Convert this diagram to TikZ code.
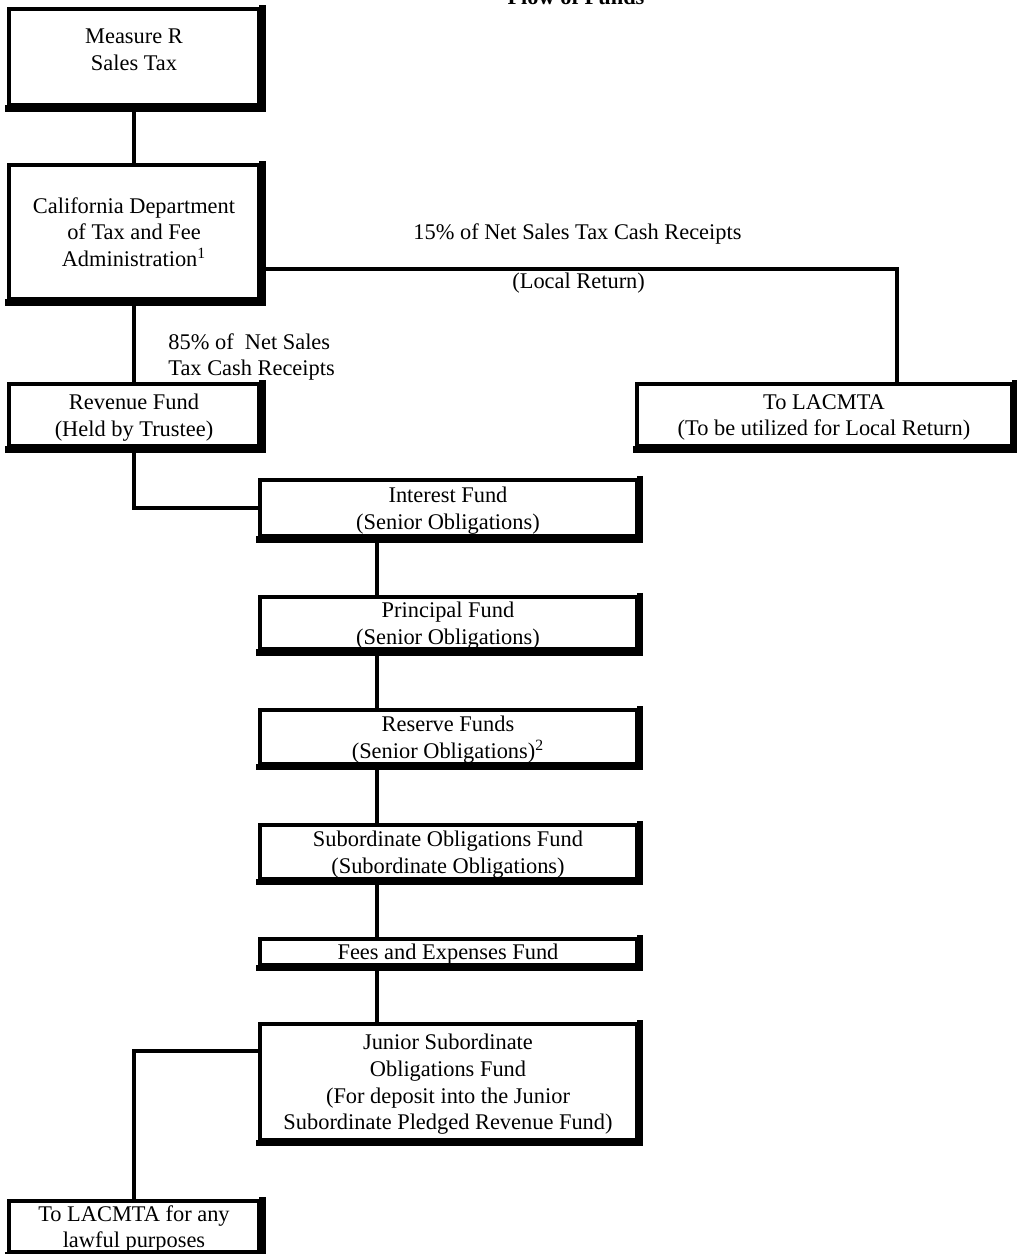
\documentclass[tikz,border=0pt]{standalone}
\usepackage{fontspec}
\setmainfont{Liberation Serif}
\usetikzlibrary{positioning}

\tikzset{
  fundbox/.style={draw, line width=2pt, inner sep=0pt, align=center, text depth=-0.5pt,
    font=\fontsize{11.2}{13.4}\selectfont},
  heavyedge/.style={line width=3.25pt},
  link/.style={line width=2pt},
  note/.style={inner sep=0pt, align=left, font=\fontsize{11.2}{13.4}\selectfont},
}

\begin{document}
\begin{tikzpicture}[x=0.5pt, y=-0.5pt]
\useasboundingbox (0,0) rectangle (1017,1254);

% title (cut by the page top)
\node[font=\bfseries\fontsize{11.2}{13.4}\selectfont, anchor=base, inner sep=0pt] (title) at (576,4) {Flow of Funds};

% left column
\node[fundbox, text depth=7.4pt, minimum width=125pt, minimum height=48pt] (measure) at (134,57) {Measure R\\Sales Tax};
\node[fundbox, minimum width=125pt, minimum height=67pt] (cdtfa) at (134,232)
  {California Department\\of Tax and Fee\\Administration\textsuperscript{1}};
\node[fundbox, minimum width=125pt, minimum height=31pt] (revenue) at (134,415) {Revenue Fund\\(Held by Trustee)};
\node[fundbox, minimum width=187.5pt, minimum height=31pt] (localret) at (824,415)
  {To LACMTA\\(To be utilized for Local Return)};

% waterfall of funds
\node[fundbox, minimum width=188.5pt, minimum height=28.25pt] (interest) at (448,508) {Interest Fund\\(Senior Obligations)};
\node[fundbox, minimum width=188.5pt, minimum height=26.25pt] (principal) at (448,623) {Principal Fund\\(Senior Obligations)};
\node[fundbox, minimum width=188.5pt, minimum height=26.75pt] (reserve) at (448,737) {Reserve Funds\\(Senior Obligations)\textsuperscript{2}};
\node[fundbox, minimum width=188.5pt, minimum height=26.75pt] (subord) at (448,852)
  {Subordinate Obligations Fund\\(Subordinate Obligations)};
\node[fundbox, minimum width=188.5pt, minimum height=12.75pt] (fees) at (448,952) {Fees and Expenses Fund};
\node[fundbox, minimum width=188.5pt, minimum height=57.75pt] (junior) at (448,1082)
  {Junior Subordinate\\Obligations Fund\\(For deposit into the Junior\\Subordinate Pledged Revenue Fund)};
\node[fundbox, minimum width=125pt, minimum height=25.5pt] (lawful) at (134,1226.5) {To LACMTA for any\\lawful purposes};

% heavy right and bottom edges
\foreach \n in {measure,cdtfa,revenue,localret,interest,principal,reserve,subord,fees,junior,lawful}
  \draw[heavyedge] ([xshift=0.625pt,yshift=1pt]\n.north east) -- ([xshift=0.625pt,yshift=-0.625pt]\n.south east)
    -- ([xshift=-1pt,yshift=-0.625pt]\n.south west);

% connectors
\draw[link] (measure) -- (cdtfa);
\draw[link] (cdtfa) -- (revenue);
\draw[link] ([yshift=-18.5pt]cdtfa.east) -| ([xshift=36.5pt]localret.north);
\draw[link] (revenue.south) |- (interest.west);
\foreach \a/\b in {interest/principal,principal/reserve,reserve/subord,subord/fees,fees/junior}
  \draw[link] ([xshift=-35.5pt]\a.south) -- ([xshift=-35.5pt]\b.north);
\draw[link] ([yshift=15.5pt]junior.west) -| (lawful.north);

% labels
\node[note, anchor=base west] (share15) at (413,239) {15\% of Net Sales Tax Cash Receipts};
\node[note, anchor=base west] (localnote) at (512,288) {(Local Return)};
\node[note, anchor=west] (share85) at (168,357) {85\% of\ \ Net Sales\\Tax Cash Receipts};
\end{tikzpicture}
\end{document}
